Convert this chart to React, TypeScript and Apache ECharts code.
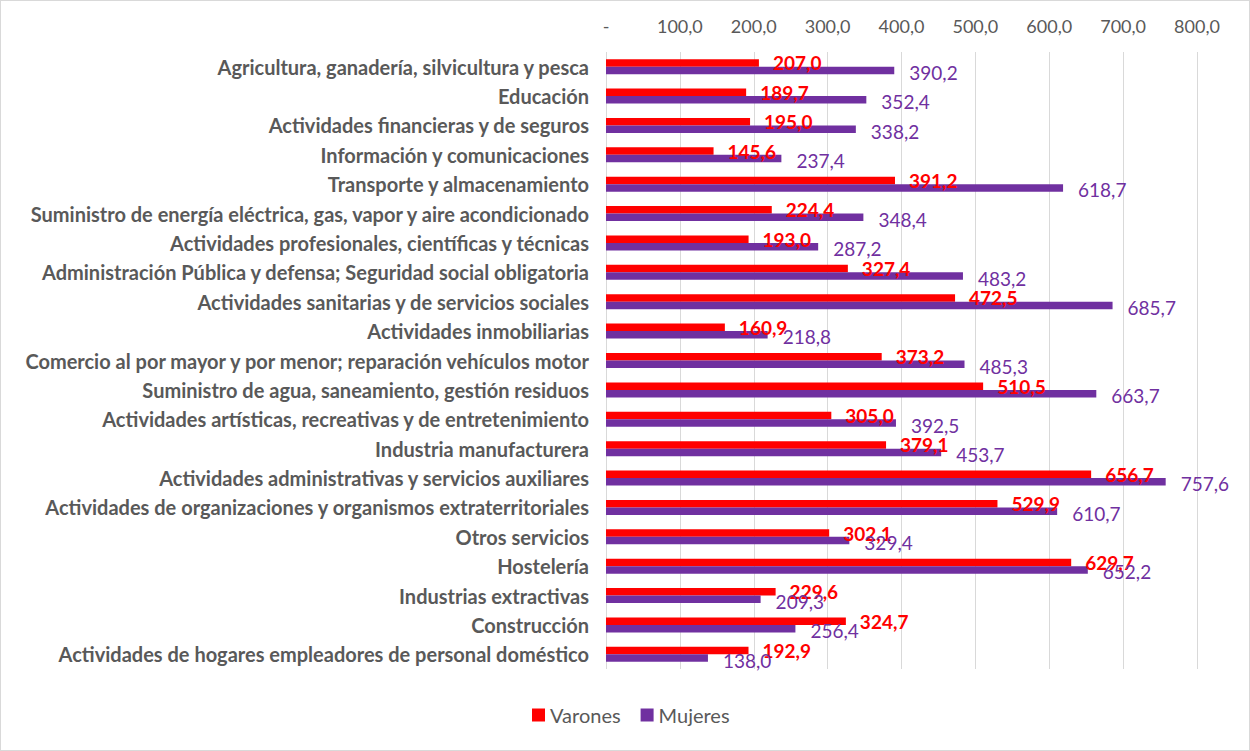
import React, { useEffect, useRef } from "react";
import * as echarts from "echarts";

const categories = [
  "Agricultura, ganadería, silvicultura y pesca",
  "Educación",
  "Actividades financieras y de seguros",
  "Información y comunicaciones",
  "Transporte y almacenamiento",
  "Suministro de energía eléctrica, gas, vapor y aire acondicionado",
  "Actividades profesionales, científicas y técnicas",
  "Administración Pública y defensa; Seguridad social obligatoria",
  "Actividades sanitarias y de servicios sociales",
  "Actividades inmobiliarias",
  "Comercio al por mayor y por menor; reparación vehículos motor",
  "Suministro de agua, saneamiento, gestión residuos",
  "Actividades artísticas, recreativas y de entretenimiento",
  "Industria manufacturera",
  "Actividades administrativas y servicios auxiliares",
  "Actividades de organizaciones y organismos extraterritoriales",
  "Otros servicios",
  "Hostelería",
  "Industrias extractivas",
  "Construcción",
  "Actividades de hogares empleadores de personal doméstico",
];

const varones = [
  207.0, 189.7, 195.0, 145.6, 391.2, 224.4, 193.0, 327.4, 472.5, 160.9, 373.2,
  510.5, 305.0, 379.1, 656.7, 529.9, 302.1, 629.7, 229.6, 324.7, 192.9,
];

const mujeres = [
  390.2, 352.4, 338.2, 237.4, 618.7, 348.4, 287.2, 483.2, 685.7, 218.8, 485.3,
  663.7, 392.5, 453.7, 757.6, 610.7, 329.4, 652.2, 209.3, 256.4, 138.0,
];

const seriesNames = ["Varones", "Mujeres"];
const axisMax = 800;
const axisInterval = 100;

const fmt = (v: number) => v.toFixed(1).replace(".", ",");

export default function App() {
  const ref = useRef<HTMLDivElement>(null);
  useEffect(() => {
    if (!ref.current) return;
    const chart = echarts.init(ref.current, null, { renderer: "svg" });
    const font = "Lato, 'Open Sans', sans-serif";
    chart.setOption({
      animation: false,
      backgroundColor: "#ffffff",
      textStyle: { fontFamily: font },
      grid: { left: 605, right: 52, top: 51, bottom: 81, containLabel: false },
      legend: {
        data: seriesNames,
        bottom: 20,
        left: 526,
        itemWidth: 13,
        itemHeight: 13,
        itemGap: 20,
        icon: "rect",
        textStyle: { color: "#595959", fontSize: 20, fontFamily: font },
      },
      xAxis: {
        type: "value",
        position: "top",
        min: 0,
        max: axisMax,
        interval: axisInterval,
        axisLine: { show: false },
        axisTick: { show: false },
        splitLine: { show: true, lineStyle: { color: "#d9d9d9", width: 1 } },
        axisLabel: {
          color: "#595959",
          fontSize: 18,
          margin: 17,
          fontFamily: font,
          formatter: (v: number) => (v === 0 ? "-" : fmt(v)),
        },
      },
      yAxis: {
        type: "category",
        data: categories,
        inverse: true,
        axisLine: { show: false },
        axisTick: { show: false },
        axisLabel: {
          color: "#595959",
          fontSize: 20,
          fontWeight: "bold",
          margin: 17,
          fontFamily: font,
        },
      },
      series: [
        {
          name: seriesNames[0],
          type: "bar",
          data: varones,
          barWidth: 7.5,
          barGap: "0%",
          itemStyle: { color: "#ff0000" },
          label: {
            show: true,
            position: "right",
            distance: 14,
            color: "#ff0000",
            fontWeight: "bold",
            fontSize: 19,
            fontFamily: font,
            formatter: (p: any) => fmt(p.value),
          },
        },
        {
          name: seriesNames[1],
          type: "bar",
          data: mujeres,
          barWidth: 7.5,
          barGap: "0%",
          itemStyle: { color: "#7030a0" },
          label: {
            show: true,
            position: "right",
            distance: 15,
            offset: [0, 2],
            color: "#7030a0",
            fontSize: 19,
            fontFamily: font,
            formatter: (p: any) => fmt(p.value),
          },
        },
      ],
    });
    return () => chart.dispose();
  }, []);
  return (
    <div
      style={{
        position: "fixed",
        left: 0,
        top: 0,
        width: 1250,
        height: 751,
        boxSizing: "border-box",
        border: "1px solid #d9d9d9",
        background: "#fff",
      }}
    >
      <div ref={ref} style={{ width: 1248, height: 749 }} />
    </div>
  );
}
